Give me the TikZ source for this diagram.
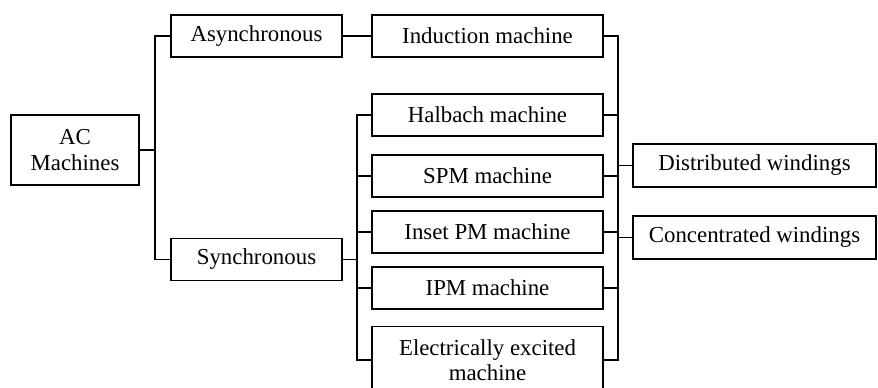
\documentclass[tikz,border=0pt]{standalone}
\usepackage{fontspec}
\setmainfont{Liberation Serif}
\usepackage{tikz}

\tikzset{
  box/.style={draw,line width=0.7pt,align=center,inner sep=2pt,
    font=\fontsize{13}{14.5}\selectfont},
  link/.style={line width=1.1pt}
}

\begin{document}
\begin{tikzpicture}[x=0.02cm,y=-0.02cm,line join=miter]
\useasboundingbox (0,0) rectangle (878,388);
% first level
\node[box,minimum width=2.56cm,minimum height=1.4cm] (ac) at (75,150) {AC\\Machines};
\node[box,minimum width=3.42cm,minimum height=0.84cm] (async) at (256.5,36) {Asynchronous};
\node[box,minimum width=3.42cm,minimum height=0.84cm] (sync) at (256.5,259.5) {Synchronous};
% machine types
\node[box,minimum width=4.62cm,minimum height=0.84cm] (induction) at (487.5,36) {Induction machine};
\node[box,minimum width=4.62cm,minimum height=0.84cm] (halbach) at (487.5,115) {Halbach machine};
\node[box,minimum width=4.62cm,minimum height=0.84cm] (spm) at (487.5,176) {SPM machine};
\node[box,minimum width=4.62cm,minimum height=0.84cm] (inset) at (487.5,232) {Inset PM machine};
\node[box,minimum width=4.62cm,minimum height=0.84cm] (ipm) at (487.5,288) {IPM machine};
\node[box,minimum width=4.62cm,minimum height=1.34cm] (ee) at (487.5,360) {Electrically excited\\machine};
% windings
\node[box,minimum width=4.86cm,minimum height=0.86cm] (dist) at (754.5,165.5) {Distributed windings};
\node[box,minimum width=4.86cm,minimum height=0.86cm] (conc) at (754.5,237.5) {Concentrated windings};

\coordinate (b1) at (155,150);
\coordinate (b2) at (357,259.5);
\coordinate (b3) at (618,165.5);

\draw[link] (ac.east) -- (b1);
\draw[link] (async.west) -| (b1) |- (sync.west);
\draw[link] (async) -- (induction);
\draw[link] (sync.east) -- (b2);
\draw[link] (halbach.west) -| (b2) |- (ee.west);
\foreach \m in {spm,inset,ipm}
  \draw[link] (\m.west) -- (\m.west -| b2);
\draw[link] (induction.east) -| (b3) |- (ee.east);
\foreach \m in {halbach,spm,inset,ipm}
  \draw[link] (\m.east) -- (\m.east -| b3);
\draw[link] (b3) -- (dist.west);
\draw[link] (conc.west) -- (conc.west -| b3);
\end{tikzpicture}
\end{document}
